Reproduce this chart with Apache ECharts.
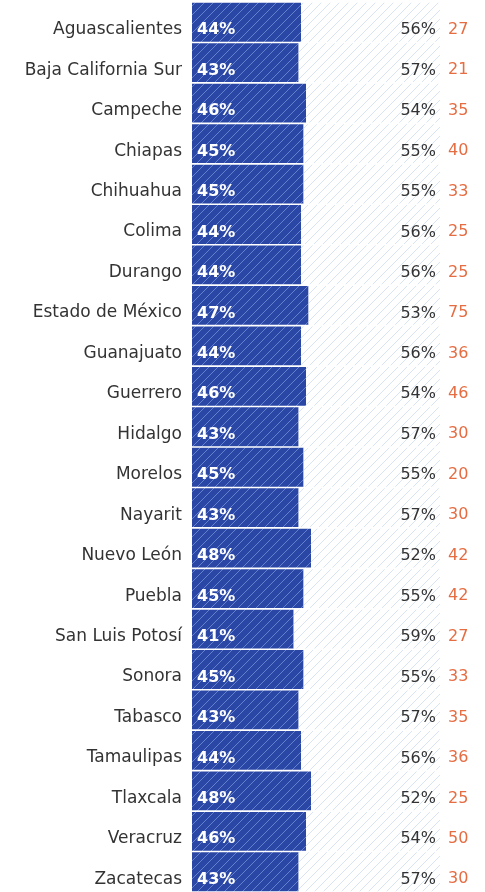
<!DOCTYPE html>
<html>
<head>
<meta charset="utf-8">
<script src="https://cdn.jsdelivr.net/npm/echarts@6/dist/echarts.min.js"></script>
<style>
  html, body { margin: 0; padding: 0; background: #fff; }
  #main { width: 485px; height: 892px; }
</style>
</head>
<body>
<div id="main"></div>
<script>
// estados
const states = ['Aguascalientes', 'Baja California Sur', 'Campeche', 'Chiapas', 'Chihuahua', 'Colima',
  'Durango', 'Estado de México', 'Guanajuato', 'Guerrero', 'Hidalgo', 'Morelos', 'Nayarit',
  'Nuevo León', 'Puebla', 'San Luis Potosí', 'Sonora', 'Tabasco', 'Tamaulipas', 'Tlaxcala',
  'Veracruz', 'Zacatecas'];
// porcentaje barra azul
const bluePct = [44, 43, 46, 45, 45, 44, 44, 47, 44, 46, 43, 45, 43, 48, 45, 41, 45, 43, 44, 48, 46, 43];
// porcentaje restante
const restPct = [56, 57, 54, 55, 55, 56, 56, 53, 56, 54, 57, 55, 57, 52, 55, 59, 55, 57, 56, 52, 54, 57];
// cifra naranja
const counts = [27, 21, 35, 40, 33, 25, 25, 75, 36, 46, 30, 20, 30, 42, 42, 27, 33, 35, 36, 25, 50, 30];

function hatch(bg, line, w) {
  const c = document.createElement('canvas');
  c.width = 9; c.height = 9;
  const ctx = c.getContext('2d');
  ctx.fillStyle = bg;
  ctx.fillRect(0, 0, 9, 9);
  ctx.strokeStyle = line;
  ctx.lineWidth = w;
  ctx.beginPath();
  ctx.moveTo(-1, 10); ctx.lineTo(10, -1);
  ctx.moveTo(-1, 1); ctx.lineTo(1, -1);
  ctx.moveTo(8, 10); ctx.lineTo(10, 8);
  ctx.stroke();
  return c;
}

const font = '"DejaVu Sans", sans-serif';
const shift = 8; // los textos van un poco más abajo que el centro de la barra
const myChart = echarts.init(document.getElementById('main'));

let option = {
  animation: false,
  grid: { left: 192, right: 45, top: 2, bottom: 0 },
  xAxis: { type: 'value', min: 0, max: 100, show: false },
  yAxis: [
    {
      type: 'category',
      data: states,
      inverse: true,
      axisLine: { show: false },
      axisTick: { show: false },
      axisLabel: { color: '#333', fontSize: 17, fontFamily: font, margin: 10, verticalAlign: 'top', lineHeight: 15 }
    },
    {
      type: 'category',
      data: counts,
      inverse: true,
      position: 'right',
      axisLine: { show: false },
      axisTick: { show: false },
      axisLabel: { color: '#e66c42', fontSize: 16, fontFamily: font, margin: 8, align: 'left', verticalAlign: 'top', lineHeight: 15 }
    }
  ],
  series: [
    {
      type: 'bar',
      stack: 'total',
      data: bluePct,
      barCategoryGap: '4%',
      itemStyle: { color: { image: hatch('#2b47a6', 'rgba(150,175,235,0.55)', 1), repeat: 'repeat' } },
      label: {
        show: true,
        position: 'insideLeft',
        offset: [0, shift],
        formatter: '{c}%',
        color: '#fff',
        fontWeight: 'bold',
        fontSize: 16,
        fontFamily: font
      }
    },
    {
      type: 'bar',
      stack: 'total',
      data: restPct,
      itemStyle: { color: { image: hatch('#ffffff', 'rgba(190,210,235,0.6)', 1), repeat: 'repeat' } },
      label: {
        show: true,
        position: 'insideRight',
        offset: [1, shift],
        formatter: '{c}%',
        color: '#333',
        fontSize: 16,
        fontFamily: font
      }
    }
  ]
};

myChart.setOption(option);
</script>
</body>
</html>
